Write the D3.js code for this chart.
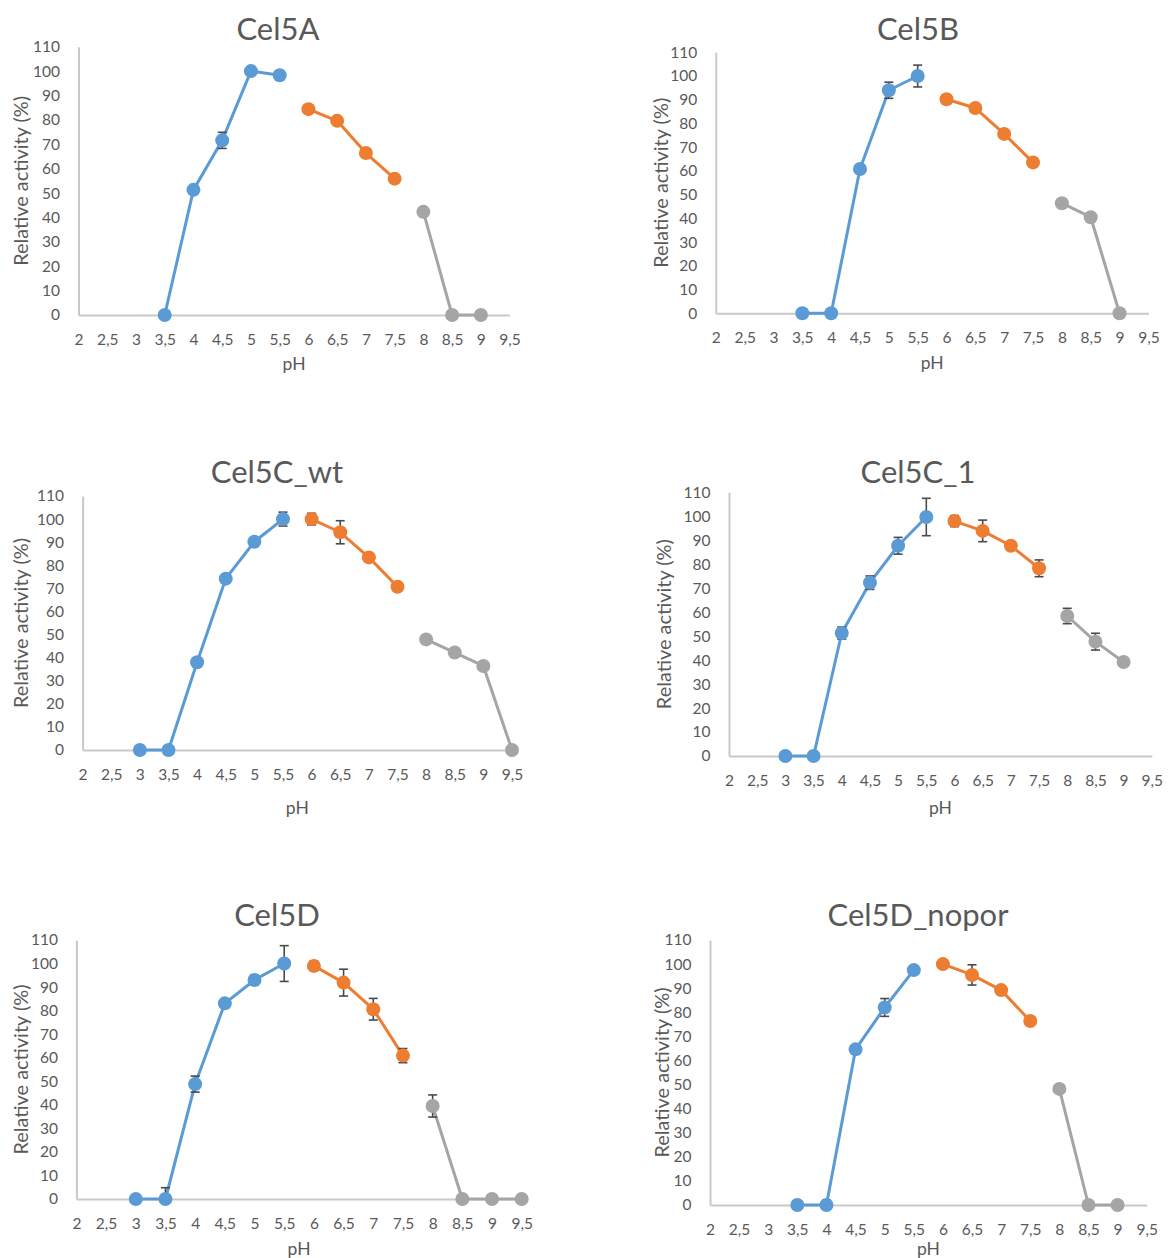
<!DOCTYPE html>
<html>
<head>
<meta charset="utf-8">
<script src="https://cdn.jsdelivr.net/npm/d3@7"></script>
<style>
  html, body { margin: 0; padding: 0; background: #ffffff; }
  svg { display: block; font-family: Lato, "Open Sans", sans-serif; }
</style>
</head>
<body>
<svg id="chart" width="1168" height="1258"></svg>
<script>
// ---- shared axis ticks ----
const xTicks = [2, 2.5, 3, 3.5, 4, 4.5, 5, 5.5, 6, 6.5, 7, 7.5, 8, 8.5, 9, 9.5];
const yTicks = [0, 10, 20, 30, 40, 50, 60, 70, 80, 90, 100, 110];
const titles = ["Cel5A", "Cel5B", "Cel5C_wt", "Cel5C_1", "Cel5D", "Cel5D_nopor"];

// ---- Cel5A ----
const cel5A_acidPH = [3.5, 4, 4.5, 5, 5.5];
const cel5A_acid = [0, 51.3, 71.6, 100, 98.3];
const cel5A_acidErr = [0, 0, 3.3, 0, 1.5];
const cel5A_neutPH = [6, 6.5, 7, 7.5];
const cel5A_neut = [84.4, 79.6, 66.4, 55.9];
const cel5A_neutErr = [0, 0, 0, 0];
const cel5A_alkPH = [8, 8.5, 9];
const cel5A_alk = [42.3, 0, 0];
const cel5A_alkErr = [0, 0, 0];

// ---- Cel5B ----
const cel5B_acidPH = [3.5, 4, 4.5, 5, 5.5];
const cel5B_acid = [0, 0, 60.8, 94, 100];
const cel5B_acidErr = [0, 0, 0, 3.4, 4.6];
const cel5B_neutPH = [6, 6.5, 7, 7.5];
const cel5B_neut = [90.2, 86.5, 75.6, 63.6];
const cel5B_neutErr = [0, 0, 0, 0];
const cel5B_alkPH = [8, 8.5, 9];
const cel5B_alk = [46.4, 40.5, 0];
const cel5B_alkErr = [0, 0, 0];

// ---- Cel5C_wt ----
const cel5Cwt_acidPH = [3, 3.5, 4, 4.5, 5, 5.5];
const cel5Cwt_acid = [0, 0, 38, 74.2, 90.2, 100];
const cel5Cwt_acidErr = [0, 0, 0, 0, 0, 3];
const cel5Cwt_neutPH = [6, 6.5, 7, 7.5];
const cel5Cwt_neut = [100, 94.3, 83.4, 70.7];
const cel5Cwt_neutErr = [2.5, 5, 0, 0];
const cel5Cwt_alkPH = [8, 8.5, 9, 9.5];
const cel5Cwt_alk = [47.9, 42.2, 36.4, 0];
const cel5Cwt_alkErr = [0, 0, 0, 0];

// ---- Cel5C_1 ----
const cel5C1_acidPH = [3, 3.5, 4, 4.5, 5, 5.5];
const cel5C1_acid = [0, 0, 51.3, 72.3, 87.7, 99.7];
const cel5C1_acidErr = [0, 0, 2.5, 2.8, 3.5, 7.8];
const cel5C1_neutPH = [6, 6.5, 7, 7.5];
const cel5C1_neut = [98, 93.9, 87.7, 78.3];
const cel5C1_neutErr = [2.3, 4.5, 0, 3.5];
const cel5C1_alkPH = [8, 8.5, 9];
const cel5C1_alk = [58.4, 47.7, 39.2];
const cel5C1_alkErr = [3.2, 3.5, 0];

// ---- Cel5D ----
const cel5D_acidPH = [3, 3.5, 4, 4.5, 5, 5.5];
const cel5D_acid = [0, 0, 48.8, 83.1, 93, 100];
const cel5D_acidErr = [0, 4.8, 3.4, 0, 2, 7.6];
const cel5D_neutPH = [6, 6.5, 7, 7.5];
const cel5D_neut = [99, 91.9, 80.6, 60.9];
const cel5D_neutErr = [2, 5.7, 4.6, 3];
const cel5D_alkPH = [8, 8.5, 9, 9.5];
const cel5D_alk = [39.5, 0, 0, 0];
const cel5D_alkErr = [4.7, 0, 0, 0];

// ---- Cel5D_nopor ----
const cel5Dn_acidPH = [3.5, 4, 4.5, 5, 5.5];
const cel5Dn_acid = [0, 0, 64.6, 82, 97.5];
const cel5Dn_acidErr = [0, 2, 0, 3.7, 0];
const cel5Dn_neutPH = [6, 6.5, 7, 7.5];
const cel5Dn_neut = [100, 95.5, 89.2, 76.4];
const cel5Dn_neutErr = [1.5, 4.2, 0, 0];
const cel5Dn_alkPH = [8, 8.5, 9];
const cel5Dn_alk = [48.2, 0, 0];
const cel5Dn_alkErr = [0, 0, 0];

const seriesColors = ["#5B9BD5", "#ED7D31", "#A5A5A5"];

function zip(xs, ys, es) { return xs.map((x, i) => ({ x, y: ys[i], e: es[i] })); }

const panelSeries = [
  [zip(cel5A_acidPH, cel5A_acid, cel5A_acidErr), zip(cel5A_neutPH, cel5A_neut, cel5A_neutErr), zip(cel5A_alkPH, cel5A_alk, cel5A_alkErr)],
  [zip(cel5B_acidPH, cel5B_acid, cel5B_acidErr), zip(cel5B_neutPH, cel5B_neut, cel5B_neutErr), zip(cel5B_alkPH, cel5B_alk, cel5B_alkErr)],
  [zip(cel5Cwt_acidPH, cel5Cwt_acid, cel5Cwt_acidErr), zip(cel5Cwt_neutPH, cel5Cwt_neut, cel5Cwt_neutErr), zip(cel5Cwt_alkPH, cel5Cwt_alk, cel5Cwt_alkErr)],
  [zip(cel5C1_acidPH, cel5C1_acid, cel5C1_acidErr), zip(cel5C1_neutPH, cel5C1_neut, cel5C1_neutErr), zip(cel5C1_alkPH, cel5C1_alk, cel5C1_alkErr)],
  [zip(cel5D_acidPH, cel5D_acid, cel5D_acidErr), zip(cel5D_neutPH, cel5D_neut, cel5D_neutErr), zip(cel5D_alkPH, cel5D_alk, cel5D_alkErr)],
  [zip(cel5Dn_acidPH, cel5Dn_acid, cel5Dn_acidErr), zip(cel5Dn_neutPH, cel5Dn_neut, cel5Dn_neutErr), zip(cel5Dn_alkPH, cel5Dn_alk, cel5Dn_alkErr)]
];

// Pixel frame of each small chart: plot box, title baseline, axis-title positions
const layout = [
  { x0: 78.5, x1: 509.6, yTop: 46.7, yBot: 315,  titleX: 278, titleY: 40,  yTitleX: 20.5, pHY: 363 },
  { x0: 715.8, x1: 1148.4, yTop: 52.3, yBot: 313.3, titleX: 918, titleY: 40, yTitleX: 661, pHY: 362 },
  { x0: 82.6, x1: 512, yTop: 496, yBot: 750,  titleX: 277, titleY: 483, yTitleX: 20.5, pHY: 807 },
  { x0: 729, x1: 1151.8, yTop: 492.3, yBot: 756, titleX: 918, titleY: 483, yTitleX: 664, pHY: 807 },
  { x0: 76.4, x1: 521.7, yTop: 940, yBot: 1199, titleX: 277, titleY: 926, yTitleX: 20.5, pHY: 1248 },
  { x0: 710, x1: 1146.7, yTop: 940, yBot: 1205, titleX: 918, titleY: 926, yTitleX: 661.5, pHY: 1248 }
];

const svg = d3.select("#chart");
svg.append("rect").attr("width", 1168).attr("height", 1258).attr("fill", "#ffffff");

const textColor = "#595959";
const axisColor = "#C9C9C9";
const fmt = v => String(v).replace(".", ",");

layout.forEach((L, p) => {
  const x = d3.scaleLinear().domain([2, 9.5]).range([L.x0, L.x1]);
  const y = d3.scaleLinear().domain([0, 110]).range([L.yBot, L.yTop]);
  const g = svg.append("g");

  // title
  g.append("text")
    .attr("x", L.titleX).attr("y", L.titleY)
    .attr("text-anchor", "middle")
    .attr("font-size", 31).attr("fill", textColor)
    .text(titles[p]);

  // y axis
  const yAxis = g.append("g")
    .attr("transform", `translate(${L.x0},0)`)
    .call(d3.axisLeft(y).tickValues(yTicks).tickSize(0).tickPadding(18.5));
  yAxis.select(".domain").attr("stroke", axisColor).attr("stroke-width", 2);
  yAxis.selectAll("text").attr("fill", textColor).attr("font-size", 15.5)
    .attr("font-family", "Lato, 'Open Sans', sans-serif");

  // x axis
  const xAxis = g.append("g")
    .attr("transform", `translate(0,${L.yBot})`)
    .call(d3.axisBottom(x).tickValues(xTicks).tickFormat(fmt).tickSize(0).tickPadding(19));
  xAxis.select(".domain").attr("stroke", axisColor).attr("stroke-width", 2);
  xAxis.selectAll("text").attr("fill", textColor).attr("font-size", 15.5)
    .attr("font-family", "Lato, 'Open Sans', sans-serif");

  // axis titles
  g.append("text")
    .attr("transform", `translate(${L.yTitleX},${(L.yTop + L.yBot) / 2}) rotate(-90)`)
    .attr("text-anchor", "middle").attr("dominant-baseline", "central")
    .attr("font-size", 18.5).attr("fill", textColor)
    .attr("textLength", 170).attr("lengthAdjust", "spacingAndGlyphs")
    .text("Relative activity (%)");
  g.append("text")
    .attr("x", (L.x0 + L.x1) / 2).attr("y", L.pHY)
    .attr("text-anchor", "middle").attr("dominant-baseline", "central")
    .attr("font-size", 17.5).attr("fill", textColor)
    .text("pH");

  const line = d3.line().x(d => x(d.x)).y(d => y(d.y));

  panelSeries[p].forEach((series, s) => {
    const sg = g.append("g");
    sg.append("path").datum(series)
      .attr("d", line).attr("fill", "none")
      .attr("stroke", seriesColors[s]).attr("stroke-width", 3)
      .attr("stroke-linejoin", "round");

    // error bars (kept inside the plot area)
    const eb = series.filter(d => d.e > 0);
    const capW = 4.5;
    eb.forEach(d => {
      const hi = d.y + d.e, lo = Math.max(0, d.y - d.e);
      const cx = x(d.x);
      sg.append("line").attr("x1", cx).attr("x2", cx).attr("y1", y(hi)).attr("y2", y(lo))
        .attr("stroke", "#4a4a4a").attr("stroke-width", 1.6);
      sg.append("line").attr("x1", cx - capW).attr("x2", cx + capW).attr("y1", y(hi)).attr("y2", y(hi))
        .attr("stroke", "#4a4a4a").attr("stroke-width", 1.6);
      if (d.y - d.e >= 0) {
        sg.append("line").attr("x1", cx - capW).attr("x2", cx + capW).attr("y1", y(lo)).attr("y2", y(lo))
          .attr("stroke", "#4a4a4a").attr("stroke-width", 1.6);
      }
    });

    sg.selectAll("circle").data(series).join("circle")
      .attr("cx", d => x(d.x)).attr("cy", d => y(d.y)).attr("r", 7)
      .attr("fill", seriesColors[s]);
  });
});
</script>
</body>
</html>
